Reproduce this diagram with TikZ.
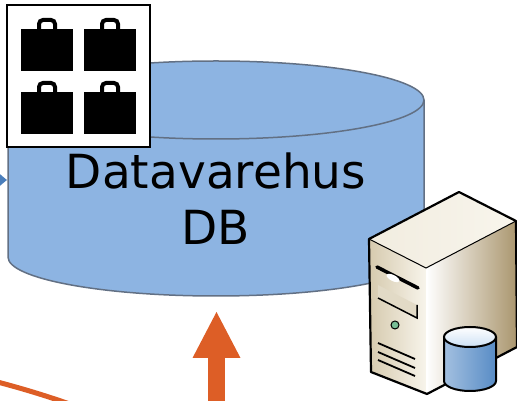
\documentclass[tikz,border=0pt]{standalone}
\usepackage{fontspec}
\setmainfont{DejaVu Sans}
\usepackage{tikz}
\usetikzlibrary{arrows.meta,positioning}

\definecolor{dbblue}{RGB}{141,180,226}
\definecolor{dbedge}{RGB}{98,112,132}
\definecolor{feedblue}{RGB}{74,126,187}
\definecolor{loadorange}{RGB}{221,94,38}
\definecolor{caselight}{RGB}{248,245,236}
\definecolor{casetan}{RGB}{214,202,174}
\definecolor{casedark}{RGB}{170,150,110}
\definecolor{diskblue}{RGB}{88,140,198}
\definecolor{disklight}{RGB}{205,225,245}
\definecolor{ledgreen}{RGB}{120,190,150}

\begin{document}
\begin{tikzpicture}[
			x = 1pt, y = 1pt,
			dbline/.style = {draw=dbedge, line width=1.5pt},
			dbtext/.style = {font=\fontsize{47}{56}\selectfont, align=center, inner sep=0pt},
			caseline/.style = {draw=black, line width=2.2pt, line join=round},
			feedarrow/.style = {draw=feedblue, line width=4pt, -{Triangle[width=24pt,length=15pt]}},
			loadarrow/.style = {draw=loadorange, line width=17pt, -{Triangle[width=48pt,length=46pt,line width=0pt]}},
			backline/.style = {draw=loadorange, line width=5pt}
			]

			\useasboundingbox (0,0) rectangle (517,401);

			% the data warehouse drum
			\fill[dbblue] (8,301) -- (8,144) arc[start angle=180, end angle=360, x radius=208, y radius=39] -- (424,301) -- cycle;
			\draw[dbline] (8,301) -- (8,144) arc[start angle=180, end angle=360, x radius=208, y radius=39] -- (424,301);
			\draw[dbline, fill=dbblue] (216,301) ellipse [x radius=208, y radius=39];
			\node[dbtext] (dwh) at (216,202.5) {Datavarehus\\DB};

			% four briefcases
			\draw[black, line width=1.5pt, fill=white] (7,396) rectangle (150,254);
			\foreach \bx/\by in {21/372, 84/372, 21/309, 84/309} {
				\fill (\bx,\by) rectangle ++(52,-42);
				\draw[line width=4pt, rounded corners=4pt] (\bx+18,\by) -- ++(0,9) -- ++(16,0) -- ++(0,-9);
			}

			% server box
			\shade[left color=casetan, right color=caselight] (369,162) -- (426,133) -- (427,7) -- (371,29) -- cycle;
			\shade[left color=white, right color=casedark] (426,133) -- (516,180) -- (517,54) -- (427,7) -- cycle;
			\shade[left color=caselight!80!casetan, right color=caselight] (369,162) -- (459,209) -- (516,180) -- (426,133) -- cycle;
			\draw[caseline] (369,162) -- (459,209) -- (516,180) -- (517,54) -- (427,7) -- (371,29) -- cycle;
			\draw[black, line width=1pt] (369,162) -- (426,133) -- (516,180);
			\draw[white, line width=1.2pt] (427,131) -- (427,9);

			\draw[black, line width=3.5pt, line cap=round] (377,134) -- (418,113);
			\fill[white, rotate around={-27:(393,123)}] (393,123) ellipse [x radius=7, y radius=3];
			\fill[casetan!70] (378,116) -- (417,96) -- (417,83) -- (378,103) -- cycle;
			\draw[black, line width=1.5pt] (378,103) -- (417,83) -- (417,96);
			\draw[black, line width=1pt, fill=ledgreen] (395,76) circle (4);
			\foreach \vy in {58, 49, 41}
				\draw[black, line width=1.8pt] (378,\vy) -- (415,\vy-16);

			% little disk
			\shade[left color=diskblue!55, middle color=white, right color=diskblue] (444,64) -- (444,20) arc[start angle=180, end angle=360, x radius=26, y radius=10] -- (496,64) -- cycle;
			\draw[black, line width=2pt] (444,64) -- (444,20) arc[start angle=180, end angle=360, x radius=26, y radius=10] -- (496,64);
			\draw[black, line width=2pt, top color=white, bottom color=disklight] (470,64) ellipse [x radius=26, y radius=10];

			% arrows
			\coordinate (feedstart) at (-40,221);
			\coordinate (feedend) at (7,221);
			\draw[feedarrow] (feedstart) -- (feedend);

			\coordinate (loadfoot) at (216.5,-10);
			\coordinate (loadtip) at (216.5,89);
			\draw[loadarrow] (loadfoot) -- (loadtip);

			\coordinate (backstart) at (-30,26);
			\coordinate (backend) at (95,-12);
			\draw[backline] (backstart) to[bend left=3] (backend);

		\end{tikzpicture}
\end{document}
